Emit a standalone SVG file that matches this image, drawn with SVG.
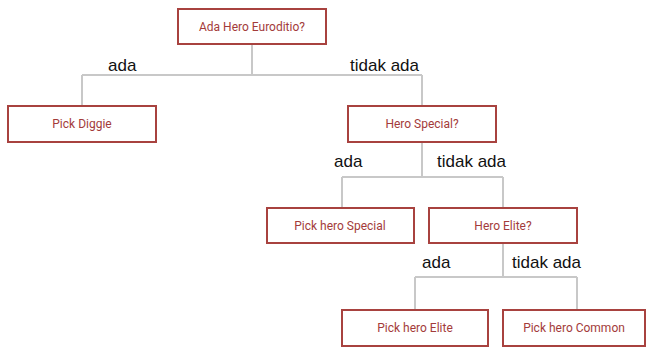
<svg xmlns="http://www.w3.org/2000/svg" width="647" height="348" viewBox="0 0 647 348">
<style>
.box rect{fill:#fff;stroke:#a8423f;stroke-width:2}
.box text{font-family:Roboto,"Liberation Sans",sans-serif;font-size:12px;fill:#a33b3a;text-anchor:middle}
.conn path{fill:none;stroke:#c8c8c8;stroke-width:2}
.lbl{font-family:"Liberation Sans",Arial,sans-serif;font-size:17px;fill:#111}
</style>
<rect width="647" height="348" fill="#fff"/>
<g class="conn">
<path d="M252 44V75M82 75H422M82 75V106M422 75V106"/>
<path d="M422 142V177M342 177H503M342 177V208M503 177V208"/>
<path d="M503 243V277M415 277H577M415 277V310M577 277V310"/>
</g>
<g id="labels">
<text class="lbl" x="108" y="71">ada</text>
<text class="lbl" x="350" y="71">tidak ada</text>
<text class="lbl" x="334" y="167">ada</text>
<text class="lbl" x="437" y="167">tidak ada</text>
<text class="lbl" x="422" y="268">ada</text>
<text class="lbl" x="512" y="268">tidak ada</text>
</g>
<g id="n1" class="box"><rect x="178" y="9" width="148" height="35"/><text x="252" y="31">Ada Hero Euroditio?</text></g>
<g id="n2" class="box"><rect x="8" y="106" width="148" height="36"/><text x="82" y="128">Pick Diggie</text></g>
<g id="n3" class="box"><rect x="348" y="106" width="148" height="36"/><text x="422" y="128">Hero Special?</text></g>
<g id="n4" class="box"><rect x="267" y="208" width="147" height="35"/><text x="340" y="230">Pick hero Special</text></g>
<g id="n5" class="box"><rect x="429" y="208" width="148" height="35"/><text x="503" y="230">Hero Elite?</text></g>
<g id="n6" class="box"><rect x="342" y="310" width="146" height="36"/><text x="415" y="332">Pick hero Elite</text></g>
<g id="n7" class="box"><rect x="503" y="310" width="142" height="36"/><text x="574" y="332">Pick hero Common</text></g>
</svg>
